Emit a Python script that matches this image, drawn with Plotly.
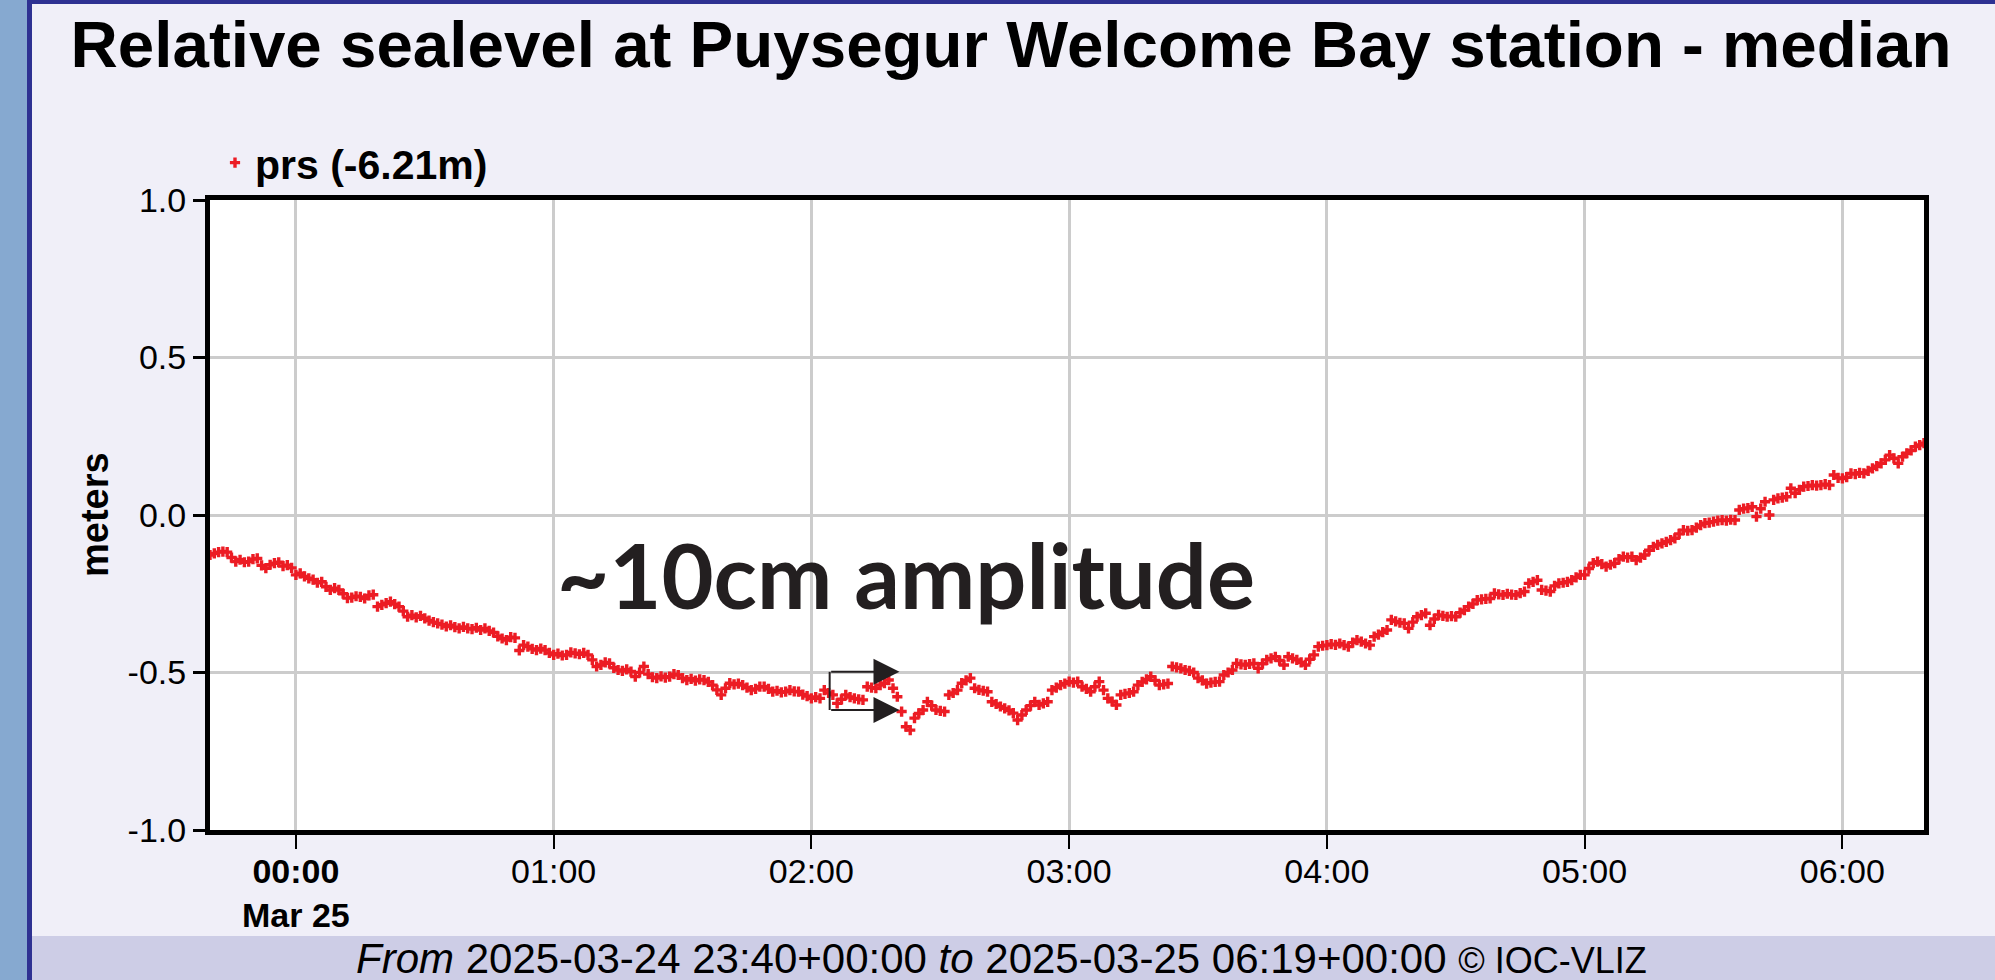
import pandas as pd
import plotly.graph_objects as go

# ---------------- data ----------------
start_time = "2025-03-24 23:40"
sea_level = [
    -0.127, -0.122, -0.118, -0.116, -0.118, -0.135, -0.148, -0.142, -0.150, -0.148,
    -0.140, -0.138, -0.160, -0.169, -0.158, -0.153, -0.150, -0.162, -0.159, -0.168,
    -0.190, -0.185, -0.195, -0.201, -0.205, -0.215, -0.212, -0.228, -0.238, -0.232,
    -0.238, -0.250, -0.264, -0.262, -0.258, -0.260, -0.265, -0.255, -0.253, -0.291,
    -0.285, -0.280, -0.275, -0.283, -0.291, -0.305, -0.323, -0.318, -0.325, -0.320,
    -0.328, -0.335, -0.340, -0.344, -0.348, -0.354, -0.350, -0.356, -0.360, -0.355,
    -0.360, -0.362, -0.358, -0.365, -0.360, -0.368, -0.373, -0.385, -0.392, -0.397,
    -0.388, -0.390, -0.430, -0.413, -0.418, -0.425, -0.429, -0.424, -0.429, -0.438,
    -0.444, -0.440, -0.446, -0.444, -0.436, -0.439, -0.442, -0.438, -0.444, -0.460,
    -0.481, -0.476, -0.468, -0.471, -0.485, -0.492, -0.495, -0.490, -0.497, -0.513,
    -0.500, -0.481, -0.505, -0.515, -0.518, -0.512, -0.516, -0.513, -0.505, -0.508,
    -0.518, -0.524, -0.520, -0.526, -0.522, -0.524, -0.530, -0.540, -0.555, -0.571,
    -0.550, -0.534, -0.538, -0.535, -0.540, -0.548, -0.556, -0.552, -0.545, -0.545,
    -0.552, -0.561, -0.558, -0.563, -0.561, -0.556, -0.560, -0.561, -0.570, -0.575,
    -0.582, -0.578, -0.582, -0.556, -0.565, -0.571, -0.598, -0.585, -0.571, -0.578,
    -0.582, -0.585, -0.587, -0.545, -0.548, -0.550, -0.540, -0.534, -0.524, -0.550,
    -0.577, -0.624, -0.672, -0.683, -0.645, -0.630, -0.619, -0.593, -0.605, -0.619,
    -0.622, -0.624, -0.571, -0.565, -0.556, -0.534, -0.525, -0.518, -0.550, -0.555,
    -0.558, -0.561, -0.593, -0.600, -0.608, -0.614, -0.620, -0.629, -0.651, -0.635,
    -0.619, -0.605, -0.593, -0.603, -0.598, -0.593, -0.556, -0.548, -0.540, -0.535,
    -0.529, -0.532, -0.529, -0.545, -0.552, -0.561, -0.545, -0.529, -0.556, -0.582,
    -0.592, -0.603, -0.571, -0.568, -0.565, -0.561, -0.540, -0.530, -0.522, -0.513,
    -0.525, -0.540, -0.538, -0.535, -0.481, -0.484, -0.487, -0.492, -0.495, -0.500,
    -0.518, -0.525, -0.535, -0.532, -0.530, -0.529, -0.508, -0.500, -0.492, -0.471,
    -0.474, -0.476, -0.473, -0.471, -0.487, -0.472, -0.460, -0.455, -0.450, -0.462,
    -0.476, -0.450, -0.455, -0.460, -0.468, -0.476, -0.458, -0.444, -0.418, -0.415,
    -0.413, -0.410, -0.412, -0.408, -0.413, -0.418, -0.405, -0.397, -0.402, -0.408,
    -0.413, -0.386, -0.380, -0.372, -0.365, -0.333, -0.338, -0.342, -0.344, -0.360,
    -0.340, -0.323, -0.318, -0.312, -0.350, -0.330, -0.317, -0.320, -0.323, -0.321,
    -0.323, -0.310, -0.302, -0.291, -0.282, -0.270, -0.268, -0.266, -0.265, -0.249,
    -0.252, -0.254, -0.250, -0.253, -0.254, -0.248, -0.243, -0.217, -0.212, -0.207,
    -0.238, -0.240, -0.243, -0.225, -0.217, -0.215, -0.212, -0.207, -0.198, -0.190,
    -0.190, -0.170, -0.153, -0.148, -0.156, -0.164, -0.158, -0.153, -0.140, -0.132,
    -0.135, -0.132, -0.143, -0.135, -0.127, -0.112, -0.101, -0.095, -0.090, -0.085,
    -0.080, -0.074, -0.060, -0.048, -0.050, -0.048, -0.040, -0.032, -0.026, -0.024,
    -0.021, -0.018, -0.016, -0.018, -0.015, -0.016, 0.016, 0.020, 0.022, 0.026,
    -0.005, 0.020, 0.042, 0.000, 0.048, 0.053, 0.055, 0.058, 0.085, 0.069,
    0.080, 0.090, 0.092, 0.095, 0.093, 0.095, 0.098, 0.095, 0.127, 0.118,
    0.116, 0.120, 0.132, 0.130, 0.134, 0.132, 0.140, 0.148, 0.155, 0.164,
    0.175, 0.190, 0.180, 0.164, 0.185, 0.196, 0.205, 0.217, 0.222, 0.228,
]
x_tick_vals = ["2025-03-25 00:00", "2025-03-25 01:00", "2025-03-25 02:00", "2025-03-25 03:00",
               "2025-03-25 04:00", "2025-03-25 05:00", "2025-03-25 06:00"]
x_tick_text = ["<b>00:00</b><br><b>Mar 25</b>", "01:00", "02:00", "03:00", "04:00", "05:00", "06:00"]
y_tick_vals = [-1.0, -0.5, 0.0, 0.5, 1.0]
y_tick_text = ["-1.0", "-0.5", "0.0", "0.5", "1.0"]
x_range = ["2025-03-24 23:40", "2025-03-25 06:19"]
y_range = [-1, 1]
series_name = "<b>prs (-6.21m)</b>"
title_text = "Relative sealevel at Puysegur Welcome Bay station - median"
footer_text = ("<i>From</i> 2025-03-24 23:40+00:00 <i>to</i> 2025-03-25 06:19+00:00 "
               "<span style='font-size:36px'>© IOC-VLIZ</span>")
note_text = "~10cm amplitude"
# bracket / arrows annotation (time, level)
bracket_tail_time = "2025-03-25 02:04:15"
bracket_head_time = "2025-03-25 02:20:30"
bracket_top = -0.498
bracket_bottom = -0.619

times = pd.date_range(start_time, periods=len(sea_level), freq="1min")

# ---------------- layout geometry ----------------
W, H = 1995, 980
L, R, T, B = 210, 1924, 200, 830
pw, ph = R - L, B - T


def px(xp):
    return (xp - L) / pw


def py(yp):
    return (B - yp) / ph


FONT = "Liberation Sans, Arial, sans-serif"
RED = "#ec1c24"
INK = "#231f20"

fig = go.Figure()
fig.add_trace(go.Scatter(
    x=times, y=sea_level, mode="markers", name=series_name,
    marker=dict(symbol="cross", size=8.5, color=RED, line=dict(width=0)),
    showlegend=True,
))

shapes = [
    # left decoration strip
    dict(type="rect", xref="paper", yref="paper", x0=px(-5), x1=px(27), y0=py(-5), y1=py(990),
         fillcolor="#86a9d0", line=dict(width=0), layer="below"),
    dict(type="rect", xref="paper", yref="paper", x0=px(27), x1=px(32), y0=py(-5), y1=py(990),
         fillcolor="#2e3192", line=dict(width=0), layer="below"),
    dict(type="rect", xref="paper", yref="paper", x0=px(27), x1=px(2000), y0=py(-5), y1=py(4),
         fillcolor="#2e3192", line=dict(width=0), layer="below"),
    # footer band
    dict(type="rect", xref="paper", yref="paper", x0=px(32), x1=px(2000), y0=py(936), y1=py(990),
         fillcolor="#cdcde6", line=dict(width=0), layer="below"),
    # bracket vertical line
    dict(type="line", xref="x", yref="y", x0=bracket_tail_time, x1=bracket_tail_time,
         y0=bracket_top, y1=bracket_bottom, line=dict(color=INK, width=2)),
]

annotations = [
    dict(text=footer_text, xref="paper", yref="paper", x=px(1001), y=py(958),
         xanchor="center", yanchor="middle", showarrow=False,
         font=dict(family=FONT, size=42, color="#000000")),
    dict(text="<b>meters</b>", xref="paper", yref="paper", x=px(95), y=py(515),
         xanchor="center", yanchor="middle", showarrow=False, textangle=-90,
         font=dict(family=FONT, size=38, color="#000000")),
    dict(text="<b>" + note_text + "</b>", xref="paper", yref="paper", x=px(906), y=py(574),
         xanchor="center", yanchor="middle", showarrow=False,
         font=dict(family="Lato, sans-serif", size=90, color=INK)),
]
for yv in (bracket_top, bracket_bottom):
    annotations.append(dict(
        x=bracket_head_time, y=yv, xref="x", yref="y",
        ax=bracket_tail_time, ay=yv, axref="x", ayref="y",
        text="", showarrow=True, arrowhead=2, arrowsize=2.6, arrowwidth=2,
        arrowcolor=INK, standoff=0,
    ))

fig.update_layout(
    width=W, height=H,
    margin=dict(l=L, r=W - R, t=T, b=H - B, pad=0),
    paper_bgcolor="#f0eff8",
    plot_bgcolor="#ffffff",
    font=dict(family=FONT, color="#000000"),
    title=dict(text="<b>" + title_text + "</b>", xref="container", yref="container",
               x=1011 / W, y=1 - 44 / H, xanchor="center", yanchor="middle",
               font=dict(family=FONT, size=65.5, color="#000000")),
    legend=dict(x=px(215), y=py(163), xanchor="left", yanchor="middle",
                bgcolor="rgba(0,0,0,0)", font=dict(family=FONT, size=41, color="#000000"),
                itemsizing="trace"),
    shapes=shapes,
    annotations=annotations,
    xaxis=dict(
        type="date", range=x_range, tickvals=x_tick_vals, ticktext=x_tick_text,
        showgrid=True, gridcolor="#cccccc", gridwidth=3,
        showline=True, linecolor="#000000", linewidth=5, mirror=True,
        ticks="outside", ticklen=14, tickwidth=2, tickcolor="#000000",
        tickfont=dict(family=FONT, size=34, color="#000000"),
        ticklabelstandoff=-7,
        zeroline=False,
    ),
    yaxis=dict(
        range=y_range, tickvals=y_tick_vals, ticktext=y_tick_text,
        showgrid=True, gridcolor="#cccccc", gridwidth=3,
        showline=True, linecolor="#000000", linewidth=5, mirror=True,
        ticks="outside", ticklen=12, tickwidth=3, tickcolor="#000000",
        tickfont=dict(family=FONT, size=34, color="#000000"),
        zeroline=False,
    ),
)

fig.write_html("out.html", config={"displayModeBar": False},
               post_script="document.body.style.margin='0px';")
